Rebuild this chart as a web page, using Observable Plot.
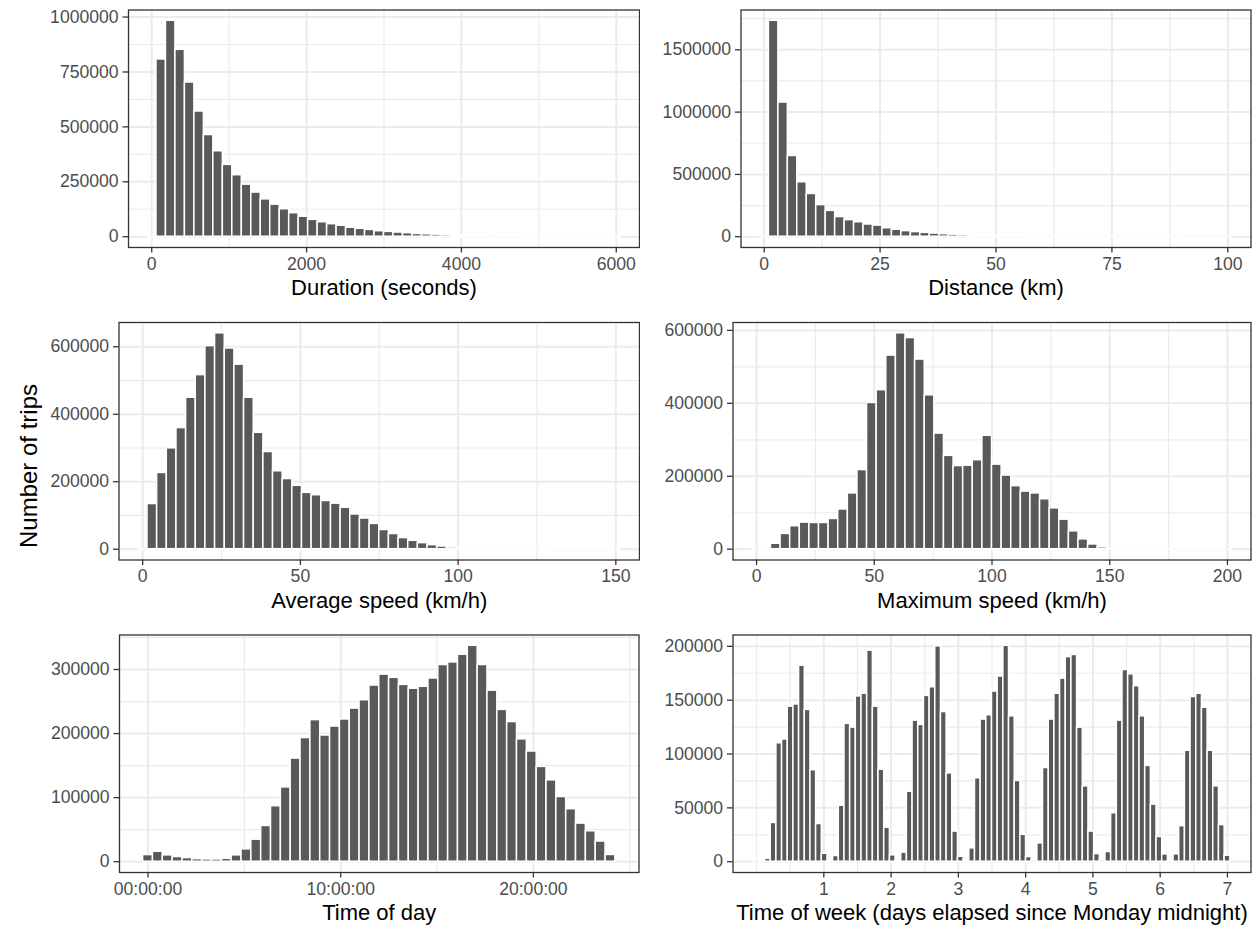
<!DOCTYPE html>
<html>
<head>
<meta charset="utf-8">
<script src="https://cdn.jsdelivr.net/npm/d3@7"></script>
<script src="https://cdn.jsdelivr.net/npm/@observablehq/plot@0.6"></script>
<style>
  body { margin: 0; background: #ffffff; }
  #figure { position: relative; width: 1259px; height: 930px; overflow: hidden; background: #ffffff;
            font-family: "Liberation Sans", Arial, Helvetica, sans-serif; }
  .cell { position: absolute; }
  .cell svg { display: block; }
  #ytitle { position: absolute; left: 0; top: 0; pointer-events: none; }
</style>
</head>
<body>
<div id="figure"></div>
<script>
// Trip counts per histogram bin (bins are centred on k * width, width = span / (bins - 1))
const durationRange = [0, 6000];
const durationCounts = [
  0, 807000, 983000, 851000, 702000, 570000, 463000, 389000, 327000, 280000,
  237000, 201000, 170000, 146000, 125000, 107000, 91000, 77000, 66000, 57000,
  50000, 41000, 36000, 31000, 25000, 22000, 19000, 16000, 12600, 11000,
  9400, 7900, 6300, 4700, 3100, 2400, 1600, 1000, 700, 500,
  300, 200, 150, 100, 80, 60, 40, 30, 20, 10
];

const distanceRange = [0, 100];
const distanceCounts = [
  0, 1733000, 1077000, 648000, 437000, 343000, 254000, 207000, 158000, 133000,
  116000, 98000, 89000, 68000, 56000, 45000, 37000, 31000, 25000, 20000,
  16500, 14000, 11000, 8000, 5500, 3000, 1500, 1000, 600, 400,
  300, 200, 150, 100, 80, 60, 50, 40, 30, 20,
  20, 10, 10, 10, 10, 0, 0, 0, 0, 0
];

const avgSpeedRange = [0, 150];
const avgSpeedCounts = [
  0, 134000, 226000, 299000, 359000, 449000, 516000, 602000, 640000, 595000,
  547000, 449000, 345000, 288000, 231000, 208000, 188000, 167000, 160000, 143000,
  135000, 123000, 103000, 91000, 75000, 57000, 45000, 33000, 25000, 18000,
  12000, 8000, 5000, 3000, 1500, 800, 400, 200, 100, 60,
  40, 20, 10, 0, 0, 0, 0, 0, 0, 0
];

const maxSpeedRange = [0, 200];
const maxSpeedCounts = [
  0, 500, 15000, 42000, 63000, 73000, 72000, 72000, 83000, 109000,
  153000, 217000, 401000, 436000, 531000, 592000, 579000, 520000, 422000, 317000,
  256000, 228000, 229000, 244000, 311000, 232000, 202000, 173000, 158000, 153000,
  137000, 112000, 81000, 49000, 27000, 13000, 5000, 1500, 500, 200,
  100, 50, 20, 10, 0, 0, 0, 0, 0, 0
];

// hours since midnight
const timeOfDayRange = [0, 24];
const timeOfDayCounts = [
  10400, 15600, 9900, 7300, 5700, 4000, 3500, 3500, 4500, 9900,
  19300, 34400, 55800, 86600, 116000, 161000, 193000, 221000, 197000, 211000,
  222000, 239000, 252000, 275000, 292000, 287000, 276000, 270000, 273000, 286000,
  307000, 311000, 323000, 337000, 307000, 267000, 237000, 218000, 191000, 172000,
  148000, 127000, 101000, 82000, 59500, 47500, 31500, 10500
];

// days since Monday 00:00
const timeOfWeekRange = [0, 7];
const timeOfWeekCounts = [
  1500, 1200, 2800, 36000, 110000, 113500, 144000, 146000, 182000, 141000, 85000, 35000,
  7400, 1200, 5300, 52000, 128000, 124500, 153500, 156000, 196000, 144000, 85500, 31600,
  5900, 1200, 8400, 65000, 131000, 127000, 154000, 162000, 200000, 139000, 82000, 28000,
  4600, 1200, 12400, 77500, 132000, 136000, 158000, 172000, 200500, 135000, 75000, 25000,
  4300, 1500, 17000, 87000, 132000, 156000, 170000, 190000, 192000, 124500, 70000, 28000,
  7100, 1500, 9000, 45000, 131000, 178000, 174000, 163000, 135000, 89000, 53000, 23000,
  6800, 1200, 6800, 33000, 103000, 153000, 156000, 143000, 103000, 70000, 34000, 5600
];

const BAR = "#595959";
const GRID = "#EBEBEB";
const BORDER = "#333333";
const TICKTEXT = "#4D4D4D";
const FONT = "'Liberation Sans', Arial, Helvetica, sans-serif";

function hms(h) { return String(h).padStart(2, "0") + ":00:00"; }

function histogram(cfg) {
  const {counts, range, xDomain, xTicks, xFormat, xGridMajor, xGridMinor, yTicks, yMinor, title, cell, m} = cfg;
  const n = counts.length;
  const w = (range[1] - range[0]) / (n - 1);
  const bins = counts.map((c, k) => ({
    x1: range[0] + k * w - w / 2,
    x2: range[0] + k * w + w / 2,
    count: c
  }));
  const ymax = d3.max(counts);
  const chart = Plot.plot({
    width: cell.w,
    height: cell.h,
    marginLeft: m.l, marginRight: m.r, marginTop: m.t, marginBottom: m.b,
    style: {fontFamily: FONT, background: "white", overflow: "visible"},
    x: {domain: xDomain, axis: null, label: null},
    y: {domain: [-0.05 * ymax, 1.05 * ymax], axis: null, label: null},
    marks: [
      Plot.gridX(xGridMinor, {stroke: GRID, strokeOpacity: 1, strokeWidth: 1.2}),
      Plot.gridY(yMinor, {stroke: GRID, strokeOpacity: 1, strokeWidth: 1.2}),
      Plot.gridX(xGridMajor || xTicks, {stroke: GRID, strokeOpacity: 1, strokeWidth: 2}),
      Plot.gridY(yTicks, {stroke: GRID, strokeOpacity: 1, strokeWidth: 2}),
      Plot.ruleY([0], {x1: bins[0].x1, x2: bins[n - 1].x2, stroke: "white", strokeWidth: 1.5}),
      Plot.rectY(bins, {x1: "x1", x2: "x2", y1: 0, y2: "count", fill: BAR, stroke: "white", strokeWidth: 1.5}),
      Plot.frame({stroke: BORDER, strokeWidth: 1.3}),
      Plot.axisX({ticks: xTicks, tickFormat: xFormat || (d => String(d)), tickSize: 5.5, tickPadding: 4.4,
                  fontSize: 17.6, fill: TICKTEXT, stroke: BORDER, strokeWidth: 1.3, label: null}),
      Plot.axisY({ticks: yTicks, tickFormat: d3.format("d"), tickSize: 5.5, tickPadding: 4.4,
                  fontSize: 17.6, fill: TICKTEXT, stroke: BORDER, strokeWidth: 1.3, label: null}),
      Plot.text([title], {frameAnchor: "bottom", lineAnchor: "top", dy: 32, fontSize: 22, fill: "black"})
    ]
  });
  const div = document.createElement("div");
  div.className = "cell";
  div.style.left = cell.x + "px";
  div.style.top = cell.y + "px";
  div.style.width = cell.w + "px";
  div.style.height = cell.h + "px";
  div.appendChild(chart);
  document.getElementById("figure").appendChild(div);
}

histogram({
  counts: durationCounts, range: durationRange,
  xDomain: [-300, 6300], xTicks: [0, 2000, 4000, 6000], xGridMinor: [1000, 3000, 5000],
  yTicks: [0, 250000, 500000, 750000, 1000000], yMinor: [125000, 375000, 625000, 875000],
  title: "Duration (seconds)",
  cell: {x: 0, y: 0, w: 640, h: 312}, m: {l: 128, r: 1, t: 9.5, b: 65}
});

histogram({
  counts: distanceCounts, range: distanceRange,
  xDomain: [-5, 105], xTicks: [0, 25, 50, 75, 100], xGridMinor: [12.5, 37.5, 62.5, 87.5],
  yTicks: [0, 500000, 1000000, 1500000], yMinor: [250000, 750000, 1250000, 1750000],
  title: "Distance (km)",
  cell: {x: 640, y: 0, w: 619, h: 312}, m: {l: 100.5, r: 8.5, t: 9.5, b: 65}
});

histogram({
  counts: avgSpeedCounts, range: avgSpeedRange,
  xDomain: [-7.5, 157.5], xTicks: [0, 50, 100, 150], xGridMinor: [25, 75, 125],
  yTicks: [0, 200000, 400000, 600000], yMinor: [100000, 300000, 500000],
  title: "Average speed (km/h)",
  cell: {x: 0, y: 312, w: 640, h: 312}, m: {l: 118.5, r: 1, t: 10, b: 64.5}
});

histogram({
  counts: maxSpeedCounts, range: maxSpeedRange,
  xDomain: [-10, 210], xTicks: [0, 50, 100, 150, 200], xGridMinor: [25, 75, 125, 175],
  yTicks: [0, 200000, 400000, 600000], yMinor: [100000, 300000, 500000],
  title: "Maximum speed (km/h)",
  cell: {x: 640, y: 312, w: 619, h: 312}, m: {l: 92.5, r: 8.5, t: 10, b: 64.5}
});

{
  const w = (timeOfDayRange[1] - timeOfDayRange[0]) / (timeOfDayCounts.length - 1);
  const span = timeOfDayRange[1] - timeOfDayRange[0] + w;
  histogram({
    counts: timeOfDayCounts, range: timeOfDayRange,
    xDomain: [timeOfDayRange[0] - w / 2 - 0.05 * span, timeOfDayRange[1] + w / 2 + 0.05 * span],
    xTicks: [0, 10, 20], xFormat: hms, xGridMinor: [5, 15, 25],
    yTicks: [0, 100000, 200000, 300000], yMinor: [50000, 150000, 250000, 350000],
    title: "Time of day",
    cell: {x: 0, y: 624, w: 640, h: 306}, m: {l: 119, r: 1.5, t: 10.5, b: 58}
  });
}

histogram({
  counts: timeOfWeekCounts, range: timeOfWeekRange,
  xDomain: [-0.35, 7.35], xTicks: [1, 2, 3, 4, 5, 6, 7],
  xGridMajor: [1, 2, 3, 4, 5, 6, 7], xGridMinor: [0, 0.5, 1.5, 2.5, 3.5, 4.5, 5.5, 6.5],
  yTicks: [0, 50000, 100000, 150000, 200000], yMinor: [25000, 75000, 125000, 175000],
  title: "Time of week (days elapsed since Monday midnight)",
  cell: {x: 640, y: 624, w: 619, h: 306}, m: {l: 92.5, r: 8.5, t: 10.5, b: 58}
});

// shared y-axis title
const ysvg = d3.create("svg")
  .attr("id", "ytitle")
  .attr("width", 60)
  .attr("height", 930);
ysvg.append("text")
  .attr("transform", "translate(37,466) rotate(-90)")
  .attr("text-anchor", "middle")
  .attr("font-family", FONT)
  .attr("font-size", 24)
  .attr("fill", "black")
  .text("Number of trips");
document.getElementById("figure").appendChild(ysvg.node());
</script>
</body>
</html>
